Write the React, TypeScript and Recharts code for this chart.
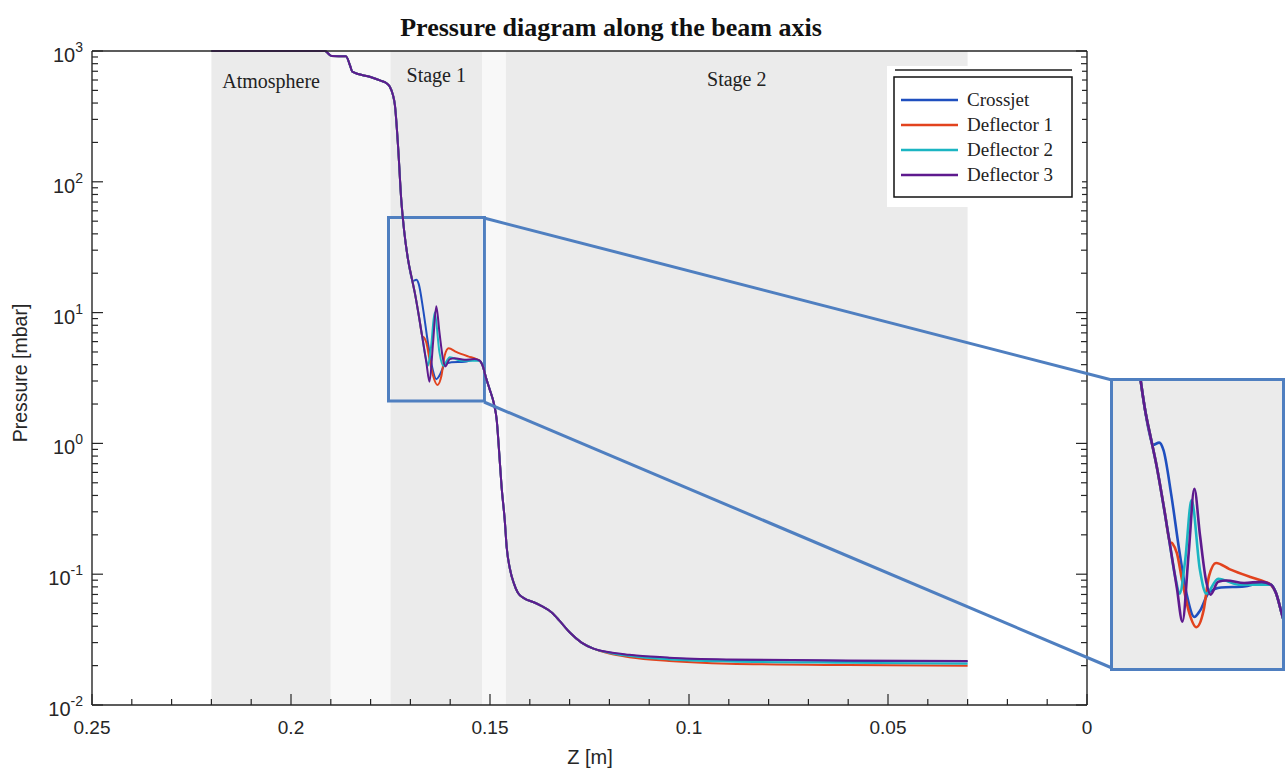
import React from "react";
import { LineChart, Line, XAxis, YAxis, ReferenceArea } from "recharts";

// axis position (m) and pressure (mbar) shared by all four runs up to the first stage
const headZ = [0.22, 0.2, 0.1915, 0.1898, 0.1862, 0.1852, 0.1846, 0.18, 0.1775, 0.176, 0.1752, 0.1744, 0.1739, 0.1731, 0.1723, 0.1716, 0.1706];
const headP = [1000, 1000, 1000, 915, 912, 780, 695, 632, 594, 567, 535, 462, 387, 187, 73, 43, 25.5];

// where the deflectors differ (stage 1)
const crossjetZ = [0.1699, 0.1694, 0.1685, 0.1679, 0.1668, 0.1656, 0.1646, 0.1635, 0.1627, 0.1614, 0.1597, 0.1564, 0.1539, 0.1526];
const crossjetP = [19.5, 17.4, 17.8, 16.5, 10.6, 5.9, 3.9, 3.1, 3.3, 3.97, 4.17, 4.21, 4.36, 4.29];
const defl1Z = [0.1697, 0.1689, 0.1677, 0.167, 0.1666, 0.166, 0.1652, 0.1643, 0.1632, 0.1622, 0.1614, 0.1604, 0.1585, 0.1555, 0.1534, 0.1526];
const defl1P = [18.6, 14.2, 8.8, 6.6, 6.46, 5.9, 4.4, 3.29, 2.8, 3.29, 4.68, 5.33, 5.01, 4.63, 4.41, 4.29];
const defl2Z = [0.1697, 0.1689, 0.1672, 0.1662, 0.1656, 0.1648, 0.1639, 0.1627, 0.1618, 0.1601, 0.1572, 0.1539, 0.1526];
const defl2P = [18.6, 14.2, 7.05, 4.6, 3.92, 5.5, 10.0, 4.96, 3.92, 4.55, 4.29, 4.29, 4.29];
const defl3Z = [0.1697, 0.1689, 0.1672, 0.166, 0.1652, 0.1643, 0.1635, 0.1627, 0.1618, 0.1612, 0.1601, 0.1589, 0.1564, 0.1539, 0.1526];
const defl3P = [18.6, 14.2, 7.05, 4.17, 2.96, 5.92, 11.2, 7.05, 4.41, 3.88, 4.41, 4.47, 4.36, 4.41, 4.29];

// second drop into stage 2, again common
const dropZ = [0.1519, 0.1509, 0.1501, 0.149, 0.1483, 0.1478, 0.1471, 0.1463, 0.1458, 0.145, 0.144, 0.143, 0.1413, 0.139, 0.137, 0.1345, 0.1325, 0.13, 0.127, 0.124];
const dropP = [3.97, 3.1, 2.6, 2.0, 1.5, 0.95, 0.47, 0.26, 0.16, 0.11, 0.085, 0.072, 0.065, 0.061, 0.057, 0.051, 0.044, 0.036, 0.03, 0.027];

// end levels in stage 2
const tailZ = [0.12, 0.115, 0.105, 0.09, 0.06, 0.03];
const crossjetTail = [0.0252, 0.024, 0.0228, 0.0221, 0.0217, 0.0215];
const defl1Tail = [0.0247, 0.0232, 0.0217, 0.0207, 0.0202, 0.02];
const defl2Tail = [0.025, 0.0237, 0.0223, 0.0215, 0.021, 0.0207];
const defl3Tail = [0.0253, 0.0242, 0.023, 0.0223, 0.0219, 0.0217];

const regions = [
  { from: 0.22, to: 0.19, label: "Atmosphere", dark: true },
  { from: 0.19, to: 0.175, label: "", dark: false },
  { from: 0.175, to: 0.152, label: "Stage 1", dark: true },
  { from: 0.152, to: 0.146, label: "", dark: false },
  { from: 0.146, to: 0.03, label: "Stage 2", dark: true },
];
const labelOffset: Record<string, number> = { Atmosphere: 23, "Stage 1": 17, "Stage 2": 21 };

const zoomZ = [0.1755, 0.1514];
const zoomP = [2.11, 53.4];
const insetZ = [0.151, 0.1751];
const insetP = [1.86, 33];

const xTicks = [0, 0.01, 0.02, 0.03, 0.04, 0.05, 0.06, 0.07, 0.08, 0.09, 0.1, 0.11, 0.12, 0.13, 0.14, 0.15, 0.16, 0.17, 0.18, 0.19, 0.2, 0.21, 0.22, 0.23, 0.24, 0.25];
const decades = [0.01, 0.1, 1, 10, 100, 1000];
const yTicks = [...decades, ...decades.slice(0, -1).flatMap((d) => [2, 3, 4, 5, 6, 7, 8, 9].map((k) => d * k))];

const zip = (z: number[], p: number[]) => z.map((v, i) => ({ z: v, p: p[i] }));
const build = (midZ: number[], midP: number[], tail: number[]) => [
  ...zip(headZ, headP),
  ...zip(midZ, midP),
  ...zip(dropZ, dropP),
  ...zip(tailZ, tail),
];

const series = [
  { name: "Crossjet", color: "#1f4fbf", data: build(crossjetZ, crossjetP, crossjetTail) },
  { name: "Deflector 1", color: "#e2431e", data: build(defl1Z, defl1P, defl1Tail) },
  { name: "Deflector 2", color: "#1bb5c2", data: build(defl2Z, defl2P, defl2Tail) },
  { name: "Deflector 3", color: "#5e1a8e", data: build(defl3Z, defl3P, defl3Tail) },
];

const AXIS = "#262626";
const SERIF = '"Liberation Serif", "Times New Roman", serif';
const SANS = '"Liberation Sans", Arial, sans-serif';
const BOX = "#4f7fc0";

const isMajorX = (v: number) => Math.abs(v / 0.05 - Math.round(v / 0.05)) < 1e-6;
const decadeOf = (v: number) => {
  const l = Math.log10(v);
  return Math.abs(l - Math.round(l)) < 1e-6 ? Math.round(l) : null;
};

function BottomTick({ x, y, payload }: any) {
  const major = isMajorX(payload.value);
  return (
    <g>
      <line x1={x} x2={x} y1={y} y2={y - (major ? 11 : 6)} stroke={AXIS} strokeWidth={1.2} />
      {major && (
        <text x={x} y={y + 29} textAnchor="middle" fontSize={19} fontFamily={SANS} fill={AXIS}>
          {String(payload.value)}
        </text>
      )}
    </g>
  );
}

function TopTick({ x, y, payload }: any) {
  const major = isMajorX(payload.value);
  return <line x1={x} x2={x} y1={y} y2={y + (major ? 11 : 6)} stroke={AXIS} strokeWidth={1.2} />;
}

function LeftTick({ x, y, payload }: any) {
  const exp = decadeOf(payload.value);
  return (
    <g>
      <line x1={x} x2={x + (exp !== null ? 11 : 6)} y1={y} y2={y} stroke={AXIS} strokeWidth={1.2} />
      {exp !== null && (
        <text x={x - 9} y={y + 11} textAnchor="end" fontSize={20} fontFamily={SANS} fill={AXIS}>
          10
          <tspan dy={-10} fontSize={14}>{exp}</tspan>
        </text>
      )}
    </g>
  );
}

function RightTick({ x, y, payload }: any) {
  const exp = decadeOf(payload.value);
  return <line x1={x} x2={x - (exp !== null ? 11 : 6)} y1={y} y2={y} stroke={AXIS} strokeWidth={1.2} />;
}

function Inset() {
  return (
    <div
      style={{
        position: "absolute",
        left: 1110,
        top: 378,
        width: 169,
        height: 287,
        border: `3px solid ${BOX}`,
        background: "#ebebeb",
      }}
    >
      <LineChart width={169} height={287} margin={{ top: 0, right: 0, bottom: 0, left: 0 }}>
        <XAxis hide dataKey="z" type="number" domain={insetZ} reversed allowDataOverflow />
        <YAxis hide dataKey="p" scale="log" domain={insetP} allowDataOverflow />
        {series.map((s) => (
          <Line
            key={s.name}
            data={s.data}
            dataKey="p"
            type="monotone"
            stroke={s.color}
            strokeWidth={2.6}
            dot={false}
            isAnimationActive={false}
          />
        ))}
      </LineChart>
    </div>
  );
}

export default function App() {
  return (
    <div style={{ position: "absolute", left: 0, top: 0, width: 1287, height: 770, background: "#fff" }}>
      <LineChart width={1287} height={770} margin={{ top: 50, right: 199, bottom: 25, left: 32 }}>
        {regions.map((r) => (
          <ReferenceArea
            key={r.from}
            x1={r.from}
            x2={r.to}
            fill={r.dark ? "#ebebeb" : "#f8f8f8"}
            fillOpacity={1}
            stroke="none"
            label={
              r.label
                ? {
                    value: r.label,
                    position: "insideTop",
                    offset: labelOffset[r.label],
                    fill: "#222",
                    fontSize: 20,
                    fontFamily: SERIF,
                  }
                : undefined
            }
          />
        ))}
        <XAxis
          dataKey="z"
          type="number"
          domain={[0, 0.25]}
          reversed
          ticks={xTicks}
          interval={0}
          tick={<BottomTick />}
          tickLine={false}
          tickSize={0}
          tickMargin={0}
          height={40}
          axisLine={{ stroke: AXIS, strokeWidth: 1.4 }}
        />
        <XAxis
          xAxisId="top"
          orientation="top"
          type="number"
          domain={[0, 0.25]}
          reversed
          allowDataOverflow
          ticks={xTicks}
          interval={0}
          tick={<TopTick />}
          tickLine={false}
          tickSize={0}
          tickMargin={0}
          height={1}
          axisLine={{ stroke: AXIS, strokeWidth: 1.4 }}
        />
        <YAxis
          dataKey="p"
          scale="log"
          domain={[0.01, 1000]}
          ticks={yTicks}
          interval={0}
          tick={<LeftTick />}
          tickLine={false}
          tickSize={0}
          tickMargin={0}
          width={60}
          axisLine={{ stroke: AXIS, strokeWidth: 1.4 }}
        />
        <YAxis
          yAxisId="right"
          orientation="right"
          scale="log"
          domain={[0.01, 1000]}
          allowDataOverflow
          ticks={yTicks}
          interval={0}
          tick={<RightTick />}
          tickLine={false}
          tickSize={0}
          tickMargin={0}
          width={1}
          axisLine={{ stroke: AXIS, strokeWidth: 1.4 }}
        />
        {series.map((s) => (
          <Line
            key={s.name}
            data={s.data}
            dataKey="p"
            name={s.name}
            type="monotone"
            stroke={s.color}
            strokeWidth={2}
            dot={false}
            isAnimationActive={false}
          />
        ))}
        <ReferenceArea
          x1={zoomZ[0]}
          x2={zoomZ[1]}
          y1={zoomP[0]}
          y2={zoomP[1]}
          fill="none"
          stroke={BOX}
          strokeWidth={3}
        />
      </LineChart>

      <svg width={1287} height={770} style={{ position: "absolute", left: 0, top: 0, pointerEvents: "none" }}>
        <text x={611} y={36} textAnchor="middle" fontSize={26} fontWeight="bold" fontFamily={SERIF} fill="#111">
          Pressure diagram along the beam axis
        </text>
        <text
          transform="translate(27 373) rotate(-90)"
          textAnchor="middle"
          fontSize={19.5}
          fontFamily={SANS}
          fill={AXIS}
        >
          Pressure [mbar]
        </text>
        <text x={590} y={764} textAnchor="middle" fontSize={20} fontFamily={SANS} fill={AXIS}>
          Z [m]
        </text>

        {/* zoom connectors */}
        <line x1={484} y1={218} x2={1112} y2={380} stroke={BOX} strokeWidth={3} />
        <line x1={484} y1={402} x2={1112} y2={668} stroke={BOX} strokeWidth={3} />

        {/* legend */}
        <rect x={887} y={66} width={195} height={141} fill="#fff" />
        <line x1={895} x2={1072} y1={70} y2={70} stroke="#555" strokeWidth={2} />
        <rect x={894} y={77} width={178} height={120} fill="#fff" stroke="#111" strokeWidth={1.5} />
        {series.map((s, i) => (
          <g key={s.name}>
            <line x1={901} x2={958} y1={100 + i * 25} y2={100 + i * 25} stroke={s.color} strokeWidth={2.5} />
            <text x={967} y={106 + i * 25} fontSize={19} fontFamily={SERIF} fill="#222">
              {s.name}
            </text>
          </g>
        ))}
      </svg>

      <Inset />
    </div>
  );
}
